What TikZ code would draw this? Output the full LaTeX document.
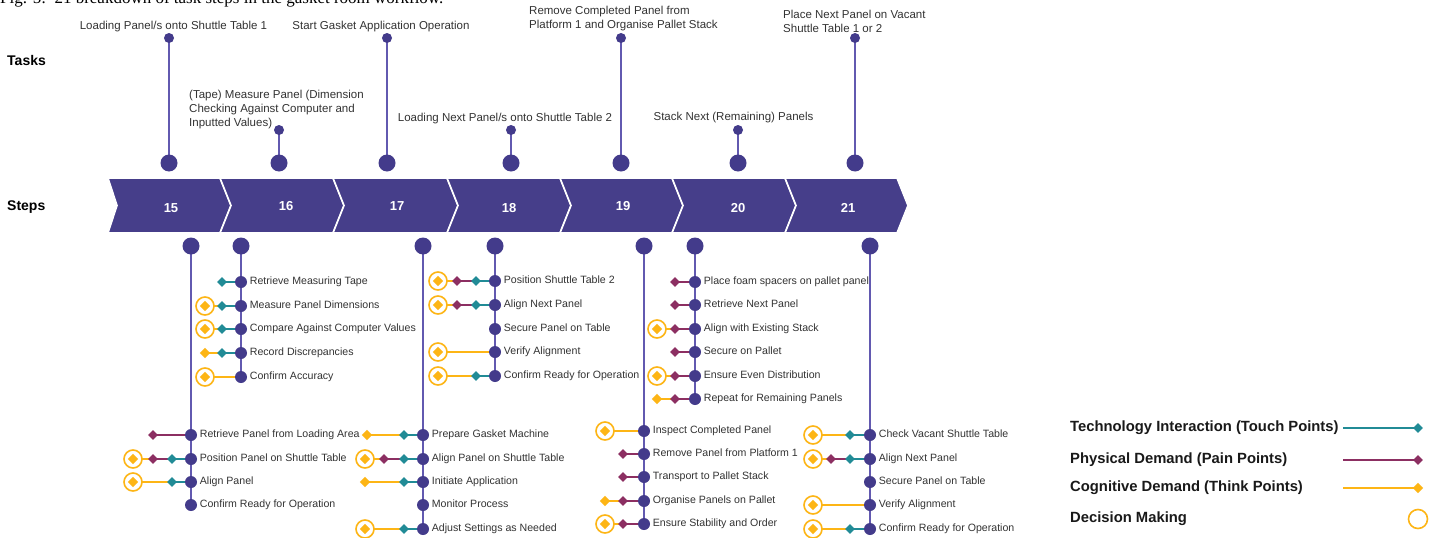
\documentclass[tikz,border=0pt]{standalone}
\usepackage{fontspec}
\setmainfont{Liberation Sans}
\newfontfamily\capfont{Liberation Serif}
\pgfdeclarelayer{bg}
\pgfdeclarelayer{paper}
\pgfsetlayers{paper,bg,main}
\definecolor{chev}{HTML}{463E8A}
\definecolor{pdot}{HTML}{433B8B}
\definecolor{pline}{HTML}{6259B0}
\definecolor{teal}{HTML}{218B96}
\definecolor{maroon}{HTML}{8C2F62}
\definecolor{yel}{HTML}{FDB515}
\definecolor{txt}{HTML}{333333}
\tikzset{
  chevbox/.style={fill=chev, draw=white, line width=1.6pt, line join=miter},
  chevnum/.style={text=white, font=\fontsize{13}{15}\selectfont\bfseries, inner sep=0pt},
  sdot/.style={circle, fill=pdot, minimum size=12pt, inner sep=0pt},
  bigdot/.style={circle, fill=pdot, minimum size=17pt, inner sep=0pt},
  smalldot/.style={circle, fill=pdot, minimum size=10pt, inner sep=0pt},
  lbl/.style={text=txt, font=\fontsize{10.6}{12}\selectfont, inner sep=0pt, anchor=west, text height=7.5pt, text depth=2pt},
  tasklbl/.style={text=txt, font=\fontsize{11.5}{14}\selectfont, inner sep=0pt, align=left},
  head/.style={text=black, font=\fontsize{14}{16}\selectfont\bfseries, inner sep=0pt, anchor=west},
  leg/.style={text=black!90, font=\fontsize{14.8}{16}\selectfont\bfseries, inner sep=0pt, anchor=west},
  vline/.style={draw=pline, line width=2pt},
  tline/.style={draw=teal, line width=2pt},
  mline/.style={draw=maroon, line width=2pt},
  yline/.style={draw=yel, line width=2pt},
  tdia/.style={diamond, fill=teal, minimum size=10pt, inner sep=0pt},
  mdia/.style={diamond, fill=maroon, minimum size=10pt, inner sep=0pt},
  ydia/.style={diamond, fill=yel, minimum size=10.5pt, inner sep=0pt},
  dcirc/.style={circle, draw=yel, fill=white, line width=1.6pt, minimum size=18pt, inner sep=0pt},
}
\usetikzlibrary{shapes.geometric}
% #1 name, #2 x, #3 y, #4 text, #5 yellow type (0/1/2), #6 yellow offset, #7 maroon offset, #8 teal offset
\newcommand\Row[8]{%
  \node[sdot] (#1) at (#2,#3) {};
  \node[lbl] (#1l) at ([xshift=2.5pt]#1.east) {#4};
  \ifnum#5>0
    \ifnum#5>1 \node[dcirc] (#1c) at ([xshift=-#6pt]#1.center) {};\fi
    \node[ydia] (#1y) at ([xshift=-#6pt]#1.center) {};
    \begin{pgfonlayer}{bg}\draw[yline] (#1y.center) -- (#1.center);\end{pgfonlayer}
  \fi
  \ifnum#7>0
    \node[mdia] (#1m) at ([xshift=-#7pt]#1.center) {};
    \begin{pgfonlayer}{bg}\draw[mline] (#1m.center) -- (#1.center);\end{pgfonlayer}
  \fi
  \ifnum#8>0
    \node[tdia] (#1t) at ([xshift=-#8pt]#1.center) {};
    \begin{pgfonlayer}{bg}\draw[tline] (#1t.center) -- (#1.center);\end{pgfonlayer}
  \fi
}
\begin{document}
\begin{tikzpicture}[x=1pt,y=-1pt]
\useasboundingbox (0,0) rectangle (1438,538);
\clip (0,0) rectangle (1438,538);
\begin{pgfonlayer}{paper}\fill[white] (0,0) rectangle (1438,538);\end{pgfonlayer}

% caption (cut at top)
\node[anchor=base west, inner sep=0pt, font=\capfont\fontsize{17}{19}\selectfont] (cap) at (0,4) {Fig. 5:\ \ 21 breakdown of task steps in the gasket room workflow.};

% headings
\node[head] (tasks) at (7,60) {Tasks};
\node[head] (steps) at (7,207) {Steps};

% chevrons
\draw[chevbox] (108,178) -- (220,178) -- (231,205.5) -- (220,233) -- (108,233) -- (117,205.5) -- cycle;
\foreach \s/\e in {220/333,333/447,447/560,560/672,672/785,785/897}{
  \draw[chevbox] (\s,178) -- (\e,178) -- (\e+11,205.5) -- (\e,233) -- (\s,233) -- (\s+11,205.5) -- cycle;
}
\node[chevnum] (c15) at (171,208) {15};
\node[chevnum] (c16) at (286,206) {16};
\node[chevnum] (c17) at (397,206) {17};
\node[chevnum] (c18) at (509,208) {18};
\node[chevnum] (c19) at (623,206) {19};
\node[chevnum] (c20) at (738,208) {20};
\node[chevnum] (c21) at (848,208) {21};

% top task pins
\foreach \n/\x/\t in {15/169/38,16/279/130,17/387/38,18/511/130,19/621/38,20/738/130,21/855/38}{
  \node[bigdot] (q\n) at (\x,163) {};
  \node[smalldot] (t\n) at (\x,\t) {};
  \begin{pgfonlayer}{bg}\draw[vline] (t\n.center) -- (q\n.center);\end{pgfonlayer}
}
\node[tasklbl] (k15) at (173.5,27) {Loading Panel/s onto Shuttle Table 1};
\node[tasklbl, anchor=west] (k16) at (189,110) {(Tape) Measure Panel (Dimension\\Checking Against Computer and\\Inputted Values)};
\node[tasklbl] (k17) at (381,27) {Start Gasket Application Operation};
\node[tasklbl] (k18) at (505,119) {Loading Next Panel/s onto Shuttle Table 2};
\node[tasklbl, anchor=west] (k19) at (529,19) {Remove Completed Panel from\\Platform 1 and Organise Pallet Stack};
\node[tasklbl] (k20) at (733.5,118) {Stack Next (Remaining) Panels};
\node[tasklbl, anchor=west] (k21) at (783,21) {Place Next Panel on Vacant\\Shuttle Table 1 or 2};

% bottom step pins
\foreach \n/\x in {15/191,16/241,17/423,18/495,19/644,20/695,21/870}{
  \node[bigdot] (p\n) at (\x,246) {};
}

% step 15
\Row{a1}{191}{435}{Retrieve Panel from Loading Area}{0}{0}{38}{0}
\Row{a2}{191}{459}{Position Panel on Shuttle Table}{2}{58}{38}{19}
\Row{a3}{191}{482}{Align Panel}{2}{58}{0}{19}
\Row{a4}{191}{505}{Confirm Ready for Operation}{0}{0}{0}{0}
% step 16
\Row{b1}{241}{282}{Retrieve Measuring Tape}{0}{0}{0}{19}
\Row{b2}{241}{306}{Measure Panel Dimensions}{2}{36}{0}{19}
\Row{b3}{241}{329}{Compare Against Computer Values}{2}{36}{0}{19}
\Row{b4}{241}{353}{Record Discrepancies}{1}{36}{0}{19}
\Row{b5}{241}{377}{Confirm Accuracy}{2}{36}{0}{0}
% step 17
\Row{c1}{423}{435}{Prepare Gasket Machine}{1}{56}{0}{19}
\Row{c2}{423}{459}{Align Panel on Shuttle Table}{2}{58}{39}{19}
\Row{c3}{423}{482}{Initiate Application}{1}{58}{0}{19}
\Row{c4}{423}{505}{Monitor Process}{0}{0}{0}{0}
\Row{c5}{423}{529}{Adjust Settings as Needed}{2}{58}{0}{19}
% step 18
\Row{d1}{495}{281}{Position Shuttle Table 2}{2}{57}{38}{19}
\Row{d2}{495}{305}{Align Next Panel}{2}{57}{38}{19}
\Row{d3}{495}{329}{Secure Panel on Table}{0}{0}{0}{0}
\Row{d4}{495}{352}{Verify Alignment}{2}{57}{0}{0}
\Row{d5}{495}{376}{Confirm Ready for Operation}{2}{57}{0}{19}
% step 19
\Row{e1}{644}{431}{Inspect Completed Panel}{2}{39}{0}{0}
\Row{e2}{644}{454}{Remove Panel from Platform 1}{0}{0}{21}{0}
\Row{e3}{644}{477}{Transport to Pallet Stack}{0}{0}{21}{0}
\Row{e4}{644}{501}{Organise Panels on Pallet}{1}{39}{21}{0}
\Row{e5}{644}{524}{Ensure Stability and Order}{2}{39}{21}{0}
% step 20
\Row{f1}{695}{282}{Place foam spacers on pallet panel}{0}{0}{20}{0}
\Row{f2}{695}{305}{Retrieve Next Panel}{0}{0}{20}{0}
\Row{f3}{695}{329}{Align with Existing Stack}{2}{38}{20}{0}
\Row{f4}{695}{352}{Secure on Pallet}{0}{0}{20}{0}
\Row{f5}{695}{376}{Ensure Even Distribution}{2}{38}{20}{0}
\Row{f6}{695}{399}{Repeat for Remaining Panels}{1}{38}{20}{0}
% step 21
\Row{g1}{870}{435}{Check Vacant Shuttle Table}{2}{57}{0}{20}
\Row{g2}{870}{459}{Align Next Panel}{2}{57}{39}{20}
\Row{g3}{870}{482}{Secure Panel on Table}{0}{0}{0}{0}
\Row{g4}{870}{505}{Verify Alignment}{2}{57}{0}{0}
\Row{g5}{870}{529}{Confirm Ready for Operation}{2}{57}{0}{20}

% vertical step lines
\begin{pgfonlayer}{bg}
\draw[vline] (p15.center) -- (a4.center);
\draw[vline] (p16.center) -- (b5.center);
\draw[vline] (p17.center) -- (c5.center);
\draw[vline] (p18.center) -- (d5.center);
\draw[vline] (p19.center) -- (e5.center);
\draw[vline] (p20.center) -- (f6.center);
\draw[vline] (p21.center) -- (g5.center);
\end{pgfonlayer}

% legend
\node[leg] (lg1) at (1070,428) {Technology Interaction (Touch Points)};
\node[leg] (lg2) at (1070,460) {Physical Demand (Pain Points)};
\node[leg] (lg3) at (1070,488) {Cognitive Demand (Think Points)};
\node[leg] (lg4) at (1070,519) {Decision Making};
\coordinate (ls1) at (1343,428);
\coordinate (ls2) at (1343,460);
\coordinate (ls3) at (1343,488);
\node[tdia] (ld1) at (1418,428) {};
\node[mdia] (ld2) at (1418,460) {};
\node[ydia] (ld3) at (1418,488) {};
\node[dcirc, minimum size=19pt] (ld4) at (1418,519) {};
\draw[tline, line width=1.6pt] (ls1) -- (ld1.center);
\draw[mline, line width=1.6pt] (ls2) -- (ld2.center);
\draw[yline, line width=1.6pt] (ls3) -- (ld3.center);
\end{tikzpicture}
\end{document}
